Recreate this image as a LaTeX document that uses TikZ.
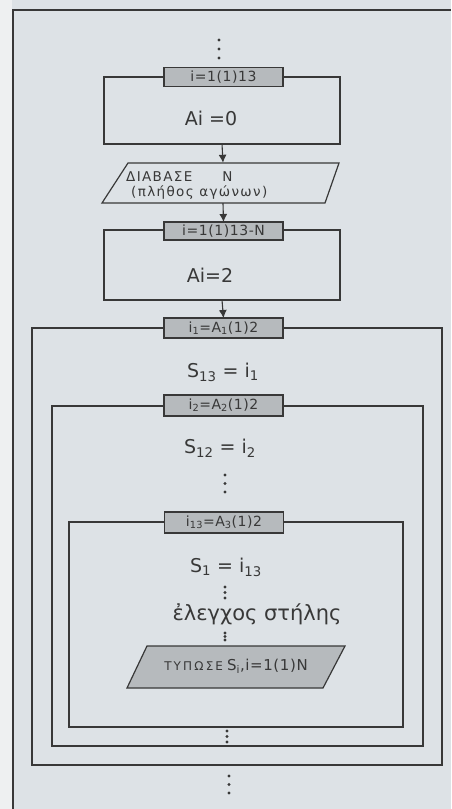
\documentclass[tikz,border=0pt]{standalone}
\usepackage{fontspec}
\setmainfont{DejaVu Sans}
\usetikzlibrary{arrows.meta}
\definecolor{paper}{HTML}{DDE2E6}
\definecolor{margin}{HTML}{EEF0F1}
\definecolor{ink}{HTML}{383838}
\definecolor{hdr}{HTML}{B6BABD}
\tikzset{
  loopbox/.style={draw=ink, line width=1.2pt, inner sep=0pt, outer sep=0pt, anchor=north west},
  hdrbox/.style={draw=ink, fill=hdr, line width=1.1pt, inner sep=0pt, outer sep=0pt,
     minimum width=119pt, font=\fontsize{14}{14}\selectfont\addfontfeature{LetterSpace=4}, text=ink},
  body/.style={font=\fontsize{19}{20}\selectfont, text=ink, inner sep=0pt},
  flow/.style={draw=ink, line width=1.1pt, -{Latex[length=8pt,width=8pt]}},
  iobox/.style={draw=ink, line width=1.2pt},
  intext/.style={font=\fontsize{13.5}{14}\selectfont\addfontfeature{LetterSpace=10}, text=ink, anchor=west, inner sep=0pt},
  pics/vdots/.style={code={
     \fill[ink] (0,0) circle (1.7pt) (0,#1) circle (1.7pt) (0,2*#1) circle (1.7pt);}}
}
\begin{document}
\begin{tikzpicture}[x=1pt,y=-1pt]
\useasboundingbox (0,0) rectangle (451,809);
\fill[paper] (0,0) rectangle (451,809);
\fill[margin] (0,0) rectangle (12,809);
\draw[ink, line width=1.4pt] (13,809) -- (13,10) -- (451,10);

% top dots
\pic at (219,40) {vdots=9};

% loop 1
\node[loopbox, minimum width=236pt, minimum height=67pt] (b1) at (104,77) {};
\node[hdrbox, minimum height=19pt] (h1) at (223.5,77) {i=1(1)13};
\node[body] (t1) at (211,118) {Ai =0};

% input parallelogram
\node[minimum width=200pt, minimum height=40pt, inner sep=0pt] (p1) at (223,183) {};
\draw[iobox] (128,163) -- (339,163) -- (325,203) -- (102,203) -- cycle;
\node[intext] (p1a) at (126,177) {ΔΙΑΒΑΣΕ\hspace{30pt}N};
\node[intext] (p1b) at (131,193) {(πλήθος αγώνων)};

% loop 2
\node[loopbox, minimum width=236pt, minimum height=70pt] (b2) at (104,230) {};
\node[hdrbox, minimum height=18pt] (h2) at (223.5,231) {i=1(1)13-N};
\node[body] (t2) at (210,275) {Ai=2};

\draw[flow] (b1.south) -- (p1.north);
\draw[flow] (p1.south) -- (h2.north);

% loop 3 (outer)
\node[loopbox, minimum width=410pt, minimum height=437pt] (b3) at (32,328) {};
\node[hdrbox, minimum height=20pt] (h3) at (223.5,328) {i\textsubscript{1}=A\textsubscript{1}(1)2};
\node[body] (t3) at (223,372) {S\textsubscript{13} = i\textsubscript{1}};
\draw[flow] (b2.south) -- (h3.north);

% loop 4
\node[loopbox, minimum width=371pt, minimum height=340pt] (b4) at (52,406) {};
\node[hdrbox, minimum height=21pt] (h4) at (223.5,405.5) {i\textsubscript{2}=A\textsubscript{2}(1)2};
\node[body] (t4) at (220,448) {S\textsubscript{12} = i\textsubscript{2}};
\pic at (225,475) {vdots=8.5};

% loop 5
\node[loopbox, minimum width=334pt, minimum height=205pt] (b5) at (69,522) {};
\node[hdrbox, minimum height=21pt] (h5) at (224,522.5) {i\textsubscript{13}=A\textsubscript{3}(1)2};
\node[body] (t5) at (226,567) {S\textsubscript{1} = i\textsubscript{13}};
\pic at (225,587) {vdots=5.5};
\node[font=\fontsize{21}{23}\selectfont, text=ink, inner sep=0pt] (t6) at (257,614) {ἐλεγχος στήλης};
\pic at (225,633) {vdots=3.5};

% output parallelogram
\node[minimum width=190pt, minimum height=42pt, inner sep=0pt] (p2) at (236,667) {};
\draw[iobox, fill=hdr] (147,646) -- (345,646) -- (323,688) -- (127,688) -- cycle;
\node[text=ink, inner sep=0pt] (p2t) at (236,666) {{\fontsize{12}{12}\selectfont\addfontfeature{LetterSpace=18}ΤΥΠΩΣΕ}\hspace{4pt}{\fontsize{15}{16}\selectfont\addfontfeature{LetterSpace=4}S\textsubscript{i},i=1(1)N}};

\pic at (227,731) {vdots=5.5};
\pic at (229,776) {vdots=8.5};
\end{tikzpicture}
\end{document}
